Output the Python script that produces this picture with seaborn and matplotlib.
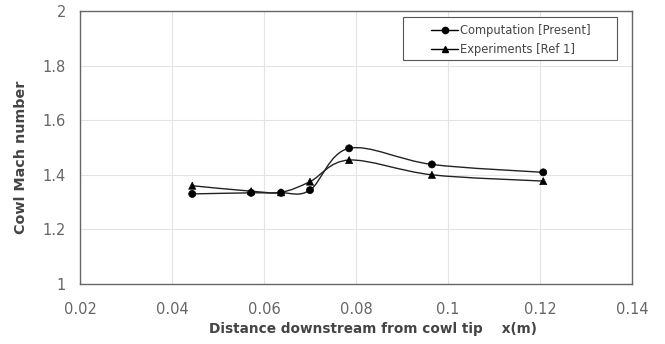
import numpy as np
import pandas as pd
import seaborn as sns
import matplotlib.pyplot as plt
from matplotlib.path import Path
from matplotlib.patches import PathPatch, Rectangle
from matplotlib.lines import Line2D

# Data
x_pos = [0.0444, 0.0572, 0.0637, 0.0700, 0.0785, 0.0965, 0.1207]
computation = [1.330, 1.334, 1.334, 1.344, 1.497, 1.438, 1.409]
experiments = [1.360, 1.340, 1.336, 1.375, 1.454, 1.400, 1.377]

series_names = ['Computation [Present]', 'Experiments [Ref 1]']
series_markers = ['o', '^']


def smooth_path(xs, ys):
    # excel style smoothed line: cubic bezier segments through the points
    pts = np.column_stack([xs, ys])
    n = len(pts)
    verts = [pts[0]]
    codes = [Path.MOVETO]
    for i in range(n - 1):
        p0 = pts[i - 1] if i > 0 else pts[i]
        p1 = pts[i]
        p2 = pts[i + 1]
        p3 = pts[i + 2] if i + 2 < n else pts[i + 1]
        c1 = p1 + (p2 - p0) / 6.0
        c2 = p2 - (p3 - p1) / 6.0
        verts += [c1, c2, p2]
        codes += [Path.CURVE4] * 3
    return Path(verts, codes)


df = pd.DataFrame({
    'x': x_pos * 2,
    'mach': computation + experiments,
    'series': [series_names[0]] * len(x_pos) + [series_names[1]] * len(x_pos),
})

sns.set_style('white')
plt.rcParams['font.family'] = ['DejaVu Sans']

fig = plt.figure(figsize=(6.65, 3.44), dpi=100)
ax = fig.add_axes([0.1203, 0.1744, 0.8301, 0.7936])

sns.scatterplot(data=df, x='x', y='mach', hue='series', style='series',
                markers=dict(zip(series_names, series_markers)),
                palette=['black', 'black'], s=26, edgecolor='black',
                linewidth=0.5, legend=False, ax=ax, zorder=3)

for ys in [computation, experiments]:
    ax.add_patch(PathPatch(smooth_path(x_pos, ys), facecolor='none',
                           edgecolor='#222222', lw=1.0, zorder=2))

ax.set_xlim(0.02, 0.14)
ax.set_ylim(1, 2)
ax.set_xticks([0.02, 0.04, 0.06, 0.08, 0.1, 0.12, 0.14])
ax.set_xticklabels(['0.02', '0.04', '0.06', '0.08', '0.1', '0.12', '0.14'])
ax.set_yticks([1, 1.2, 1.4, 1.6, 1.8, 2])
ax.set_yticklabels(['1', '1.2', '1.4', '1.6', '1.8', '2'])
ax.grid(True, color='#e4e4e4', lw=0.8)
ax.set_axisbelow(True)
ax.tick_params(axis='both', labelsize=10.5, labelcolor='#666666', length=3,
               color='#666666', width=0.8, direction='out')
ax.tick_params(axis='x', pad=10)
ax.tick_params(axis='y', pad=7)
for sp in ax.spines.values():
    sp.set_color('#666666')
    sp.set_linewidth(1.0)

ax.set_xlabel('Distance downstream from cowl tip    x(m)', fontsize=9.8,
              fontweight='bold', color='#444444')
ax.set_ylabel('Cowl Mach number', fontsize=10.3, fontweight='bold',
              color='#444444')
ax.xaxis.set_label_coords(0.53, -0.139)
ax.yaxis.set_label_coords(-0.094, 0.463)

# legend box like the excel one: frame drawn separately
ax.add_patch(Rectangle((0.585, 0.8205), 0.388, 0.1575, transform=ax.transAxes,
                       facecolor='white', edgecolor='#555555', lw=0.8,
                       zorder=4))
handles = [Line2D([], [], color='black', marker=m, markersize=4.5, lw=1.0)
           for m in series_markers]
leg = ax.legend(handles, series_names, loc='upper left',
                bbox_to_anchor=(0.62, 0.986), fontsize=8.3, frameon=False,
                handlelength=2.3, handletextpad=0.2, borderpad=0.3,
                labelspacing=0.5)
leg.set_zorder(5)
for t in leg.get_texts():
    t.set_color('#444444')

fig.savefig('out.png', dpi=100, facecolor='white')
